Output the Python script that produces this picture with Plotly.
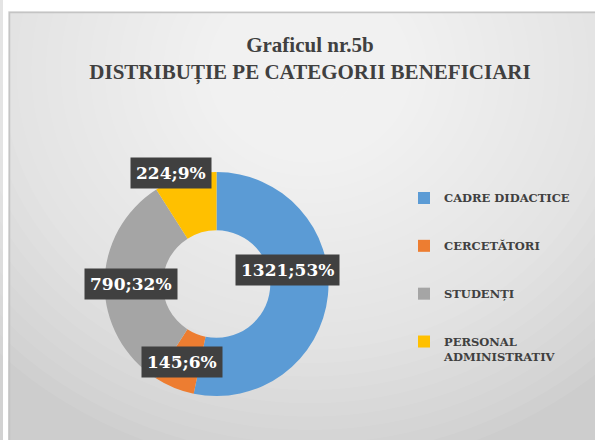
import math
import plotly.graph_objects as go

# ---- data ----
categories = ["CADRE DIDACTICE", "CERCETĂTORI", "STUDENȚI", "PERSONAL<br>ADMINISTRATIV"]
values = [1321, 145, 790, 224]
percent_labels = ["53%", "6%", "32%", "9%"]
colors = ["#5B9BD5", "#ED7D31", "#A5A5A5", "#FFC000"]

title_line1 = "Graficul nr.5b"
title_line2 = "DISTRIBUȚIE PE CATEGORII BENEFICIARI"

# ---- layout constants ----
W, H = 595, 440
cx, cy, R = 216.5, 284, 112
hole = 0.48
label_r = [0.74, 0.74, 0.74, 1.0]
label_shift = [(-11, 22), (-3, -1), (-3, 0), (-14, 3)]

def px(x):
    return x / W

def py(y):
    return (H - y) / H

fig = go.Figure()

legend_labels = [c + "<br> <br> " if i < len(categories) - 1 else c for i, c in enumerate(categories)]

fig.add_trace(go.Pie(
    labels=legend_labels,
    values=values,
    marker=dict(colors=colors, line=dict(width=0)),
    hole=hole,
    sort=False,
    direction="clockwise",
    rotation=0,
    textinfo="none",
    hoverinfo="value+percent",
    domain=dict(x=[px(cx - R), px(cx + R)], y=[py(cy + R), py(cy - R)]),
))

# data labels (dark boxes), positioned from the data's angles
total = sum(values)
cum = 0
annotations = []
for i, v in enumerate(values):
    mid = (cum + v / 2) / total * 2 * math.pi
    cum += v
    r = label_r[i] * R
    x = cx + r * math.sin(mid)
    y = cy - r * math.cos(mid)
    annotations.append(dict(
        x=px(x), y=py(y), xref="paper", yref="paper",
        xanchor="center", yanchor="middle",
        text=f"<b>{v};{percent_labels[i]}</b>",
        showarrow=False,
        font=dict(family="DejaVu Serif", size=17, color="white"),
        bgcolor="#404040",
        borderpad=5,
        xshift=label_shift[i][0], yshift=label_shift[i][1],
    ))

shapes = []
# left strip
shapes.append(dict(type="rect", xref="paper", yref="paper", x0=0, x1=px(3), y0=0, y1=1,
                   fillcolor="#d2d2d2", line=dict(width=0), layer="below"))
# chart frame base
shapes.append(dict(type="rect", xref="paper", yref="paper", x0=px(9), x1=px(600), y0=py(445), y1=py(12),
                   fillcolor="#cdcdcd", line=dict(color="#c4c4c4", width=1.5), layer="below"))
# radial gradient approximation
n = 30
for k in range(n):
    f = 1 - k / n
    rx, ry = 440 * f, 400 * f
    shapes.append(dict(type="circle", xref="paper", yref="paper",
                       x0=px(310 - rx), x1=px(310 + rx), y0=py(70 + ry), y1=py(70 - ry),
                       fillcolor="white", opacity=0.065, line=dict(width=0), layer="below"))
# frame border on top of gradient
shapes.append(dict(type="rect", xref="paper", yref="paper", x0=px(9.5), x1=px(600), y0=py(445), y1=py(12.5),
                   fillcolor="rgba(0,0,0,0)", line=dict(color="#c4c4c4", width=1.5), layer="below"))

fig.update_layout(
    width=W, height=H,
    margin=dict(l=0, r=0, t=0, b=0),
    paper_bgcolor="white",
    plot_bgcolor="white",
    title=dict(
        text=f"{title_line1}<br>{title_line2}",
        x=px(310), xanchor="center",
        y=py(52), yanchor="top",
        font=dict(family="Liberation Serif", size=21, color="#404040", weight="bold"),
    ),
    showlegend=True,
    legend=dict(
        x=px(404), y=py(184), xanchor="left", yanchor="top",
        font=dict(family="DejaVu Serif", size=11.5, color="#404040", weight="bold"),
        valign="top",
        bgcolor="rgba(0,0,0,0)",
        traceorder="normal",
    ),
    annotations=annotations,
    shapes=shapes,
)

fig.write_html("out.html", post_script="document.body.style.margin='0';",
               config={"displayModeBar": False})
